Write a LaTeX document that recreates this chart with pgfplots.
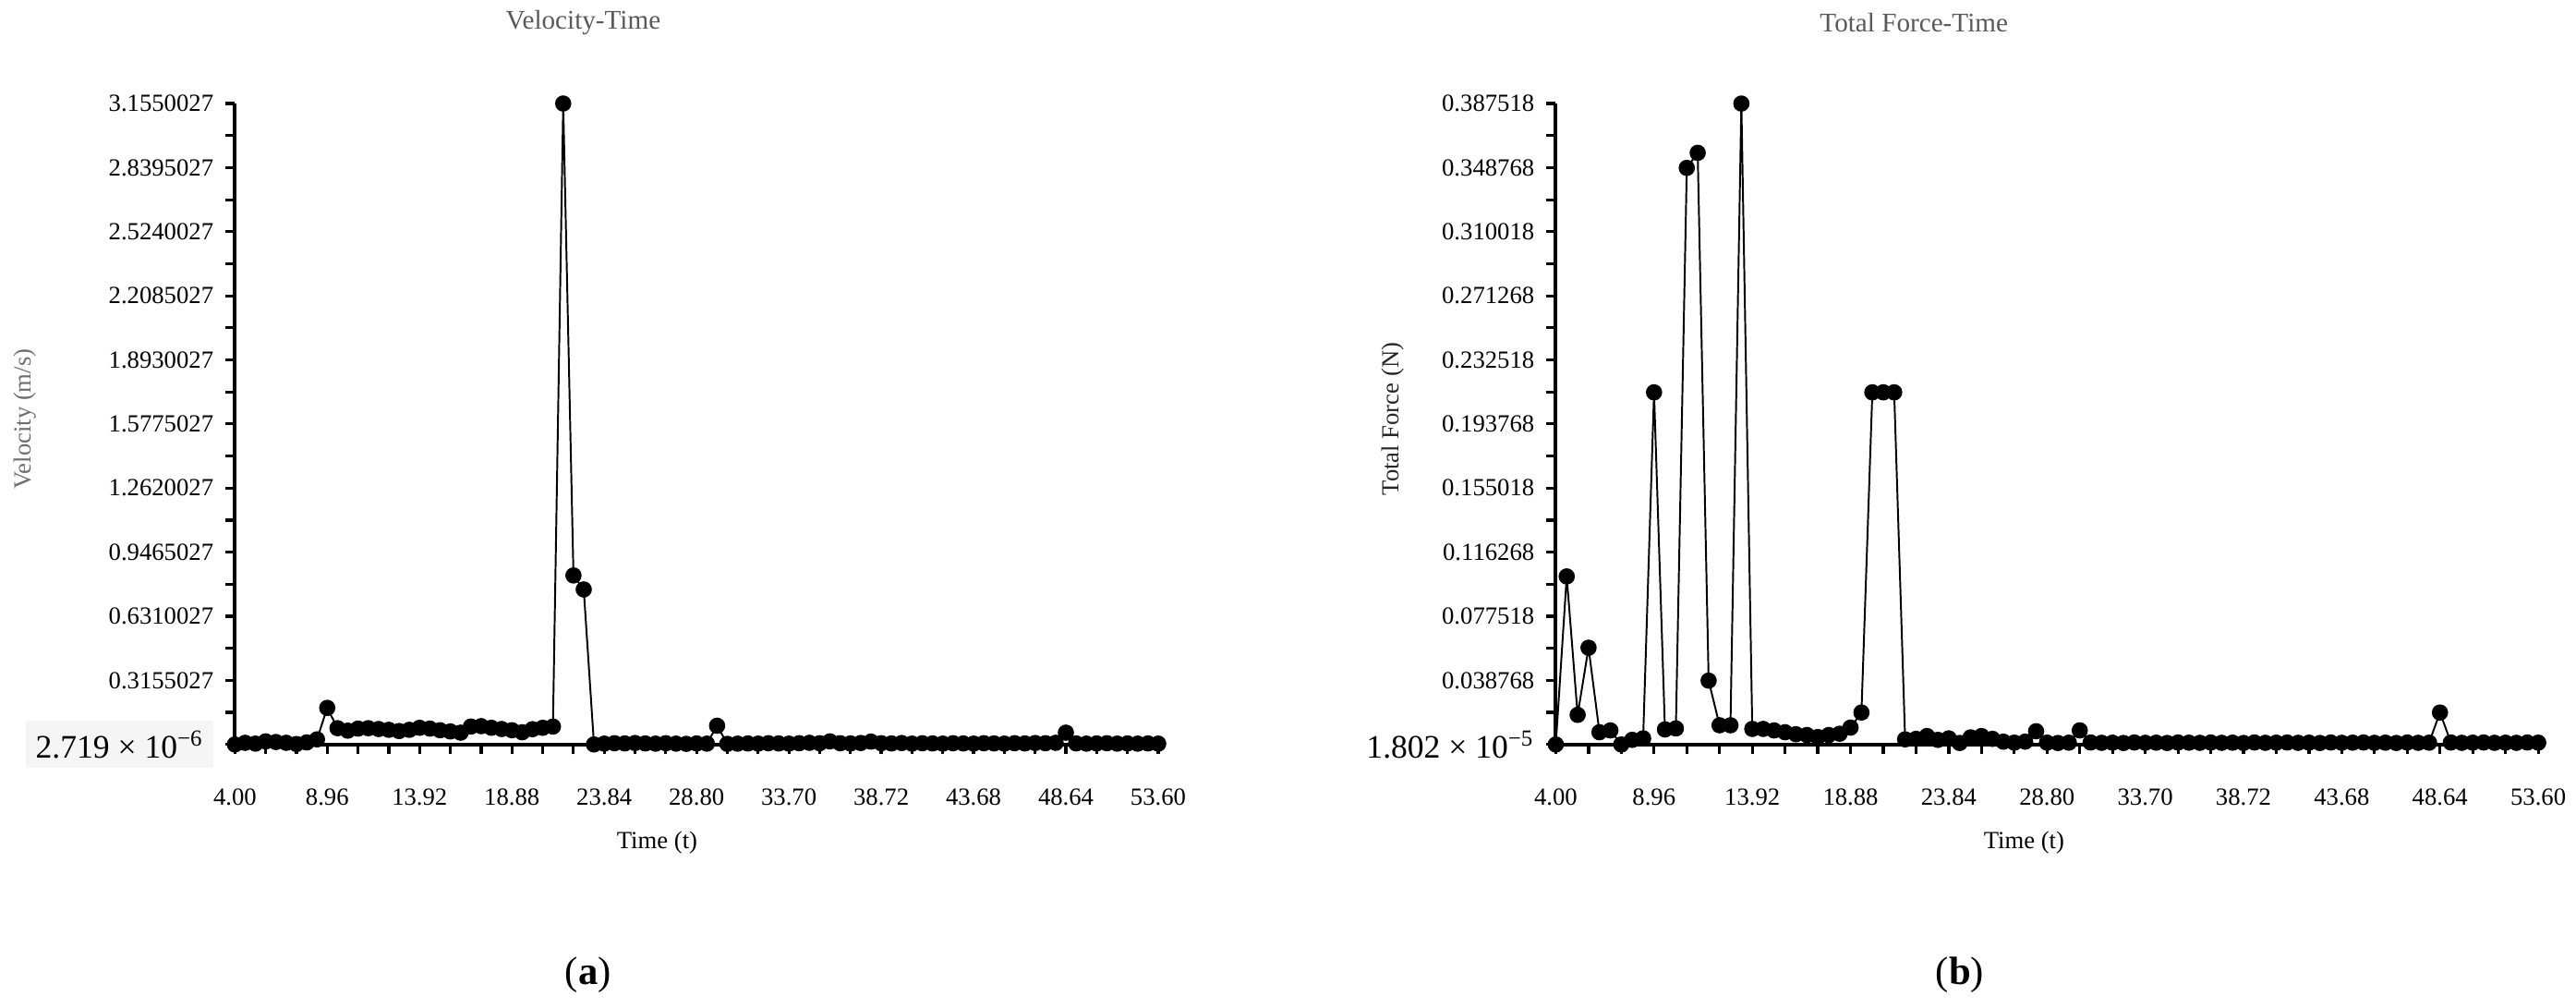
\documentclass[border=0pt]{standalone}
\usepackage{fontspec}
\setmainfont{Liberation Serif}
\usepackage{pgfplots}
\usepackage{pgfplotstable}
\pgfplotsset{compat=1.18}

\definecolor{titlegray}{HTML}{595959}
\definecolor{labgray}{HTML}{6E6E6E}

% t = time, vel = velocity (m/s), force = total force (N)
\pgfplotstableread{
t      vel    force
4.000  0.000  0.0000
4.551  0.008  0.1016
5.102  0.004  0.0179
5.653  0.015  0.0585
6.204  0.012  0.0074
6.756  0.008  0.0085
7.307  0.002  0.0000
7.858  0.010  0.0028
8.409  0.025  0.0037
8.960  0.180  0.2129
9.511  0.080  0.0091
10.062 0.068  0.0097
10.613 0.078  0.3486
11.164 0.080  0.3577
11.716 0.076  0.0386
12.267 0.072  0.0116
12.818 0.066  0.0116
13.369 0.072  0.3875
13.920 0.082  0.0094
14.471 0.078  0.0094
15.022 0.070  0.0085
15.573 0.064  0.0074
16.124 0.058  0.0062
16.676 0.088  0.0057
17.227 0.090  0.0045
17.778 0.082  0.0057
18.329 0.076  0.0065
18.880 0.070  0.0102
19.431 0.060  0.0193
19.982 0.075  0.2129
20.533 0.082  0.2129
21.084 0.088  0.2129
21.636 3.155  0.0031
22.187 0.832  0.0034
22.738 0.763  0.0051
23.289 0.000  0.0028
23.840 0.004  0.0037
24.391 0.006  0.0009
24.942 0.005  0.0043
25.493 0.007  0.0051
26.044 0.005  0.0034
26.596 0.004  0.0017
27.147 0.006  0.0011
27.698 0.004  0.0017
28.249 0.003  0.0080
28.800 0.005  0.0011
29.351 0.004  0.0009
29.902 0.092  0.0011
30.453 0.003  0.0085
31.004 0.004  0.0012
31.556 0.005  0.0010
32.107 0.004  0.0011
32.658 0.006  0.0009
33.209 0.005  0.0012
33.760 0.004  0.0010
34.311 0.006  0.0011
34.862 0.008  0.0009
35.413 0.006  0.0012
35.964 0.015  0.0011
36.516 0.006  0.0010
37.067 0.005  0.0012
37.618 0.007  0.0010
38.169 0.014  0.0011
38.720 0.006  0.0009
39.271 0.005  0.0012
39.822 0.007  0.0010
40.373 0.004  0.0011
40.924 0.006  0.0012
41.476 0.005  0.0010
42.027 0.004  0.0011
42.578 0.006  0.0009
43.129 0.005  0.0012
43.680 0.004  0.0010
44.231 0.006  0.0011
44.782 0.005  0.0012
45.333 0.004  0.0010
45.884 0.006  0.0011
46.436 0.005  0.0009
46.987 0.007  0.0012
47.538 0.006  0.0010
48.089 0.008  0.0011
48.640 0.058  0.0193
49.191 0.005  0.0012
49.742 0.004  0.0010
50.293 0.005  0.0011
50.844 0.006  0.0012
51.396 0.004  0.0010
51.947 0.005  0.0011
52.498 0.004  0.0010
53.049 0.005  0.0012
53.600 0.004  0.0011
}\datatable

\pgfplotsset{
  panel/.style={
    scale only axis, height=195pt, anchor=south west,
    axis lines*=left, axis line style={line width=1.1pt},
    tick align=outside, major tick length=3pt, minor tick length=3pt,
    every tick/.style={black, line width=0.9pt},
    xmin=4, xmax=53.6,
    xtick={4,8.96,13.92,18.88,23.84,28.80,33.76,38.72,43.68,48.64,53.60},
    xticklabels={4.00,8.96,13.92,18.88,23.84,28.80,33.70,38.72,43.68,48.64,53.60},
    minor x tick num=2, minor y tick num=1,
    ticklabel style={font=\fontsize{7.5}{9}\selectfont},
    xticklabel style={yshift=-7pt},
    clip=false,
  },
  series/.style={black, line width=0.55pt, mark=*, mark size=2.2pt},
}

\begin{document}
\begin{tikzpicture}
\useasboundingbox (0,0) rectangle (784pt,-306.5pt);

% (a) velocity
\begin{axis}[panel, at={(71.5pt,-226.5pt)}, width=281pt,
    ymin=0.000002719, ymax=3.1550027,
    ytick={0.000002719,0.3155027,0.6310027,0.9465027,1.2620027,1.5775027,1.8930027,2.2085027,2.5240027,2.8395027,3.1550027},
    yticklabels={{\colorbox{black!4}{\fontsize{10}{11}\selectfont 2.719 × 10\textsuperscript{−6}}},0.3155027,0.6310027,0.9465027,1.2620027,1.5775027,1.8930027,2.2085027,2.5240027,2.8395027,3.1550027},
  ]
  \addplot[series] table[x=t, y=vel] {\datatable};
\end{axis}

% (b) total force
\begin{axis}[panel, at={(473.5pt,-226.5pt)}, width=299pt,
    ymin=0.00001802, ymax=0.387518,
    ytick={0.00001802,0.038768,0.077518,0.116268,0.155018,0.193768,0.232518,0.271268,0.310018,0.348768,0.387518},
    yticklabels={{\fontsize{10}{11}\selectfont 1.802 × 10\textsuperscript{−5}},0.038768,0.077518,0.116268,0.155018,0.193768,0.232518,0.271268,0.310018,0.348768,0.387518},
  ]
  \addplot[series] table[x=t, y=force] {\datatable};
\end{axis}

% titles, axis labels, panel letters
\node[titlegray, font=\fontsize{8.2}{10}\selectfont] at (177.5pt,-7pt) {Velocity-Time};
\node[titlegray, font=\fontsize{8.2}{10}\selectfont] at (582.5pt,-7pt) {Total Force-Time};
\node[font=\fontsize{7.5}{9}\selectfont] at (200pt,-256.5pt) {Time (t)};
\node[font=\fontsize{7.5}{9}\selectfont] at (616pt,-256.5pt) {Time (t)};
\node[labgray, rotate=90, font=\fontsize{7.5}{9}\selectfont] at (7.5pt,-127.5pt) {Velocity (m/s)};
\node[black!85, rotate=90, font=\fontsize{7.5}{9}\selectfont] at (424pt,-127.5pt) {Total Force (N)};
\node[font=\fontsize{12}{14}\selectfont] at (179pt,-296.5pt) {(\textbf{a})};
\node[font=\fontsize{12}{14}\selectfont] at (596.5pt,-296.5pt) {(\textbf{b})};
\end{tikzpicture}
\end{document}
